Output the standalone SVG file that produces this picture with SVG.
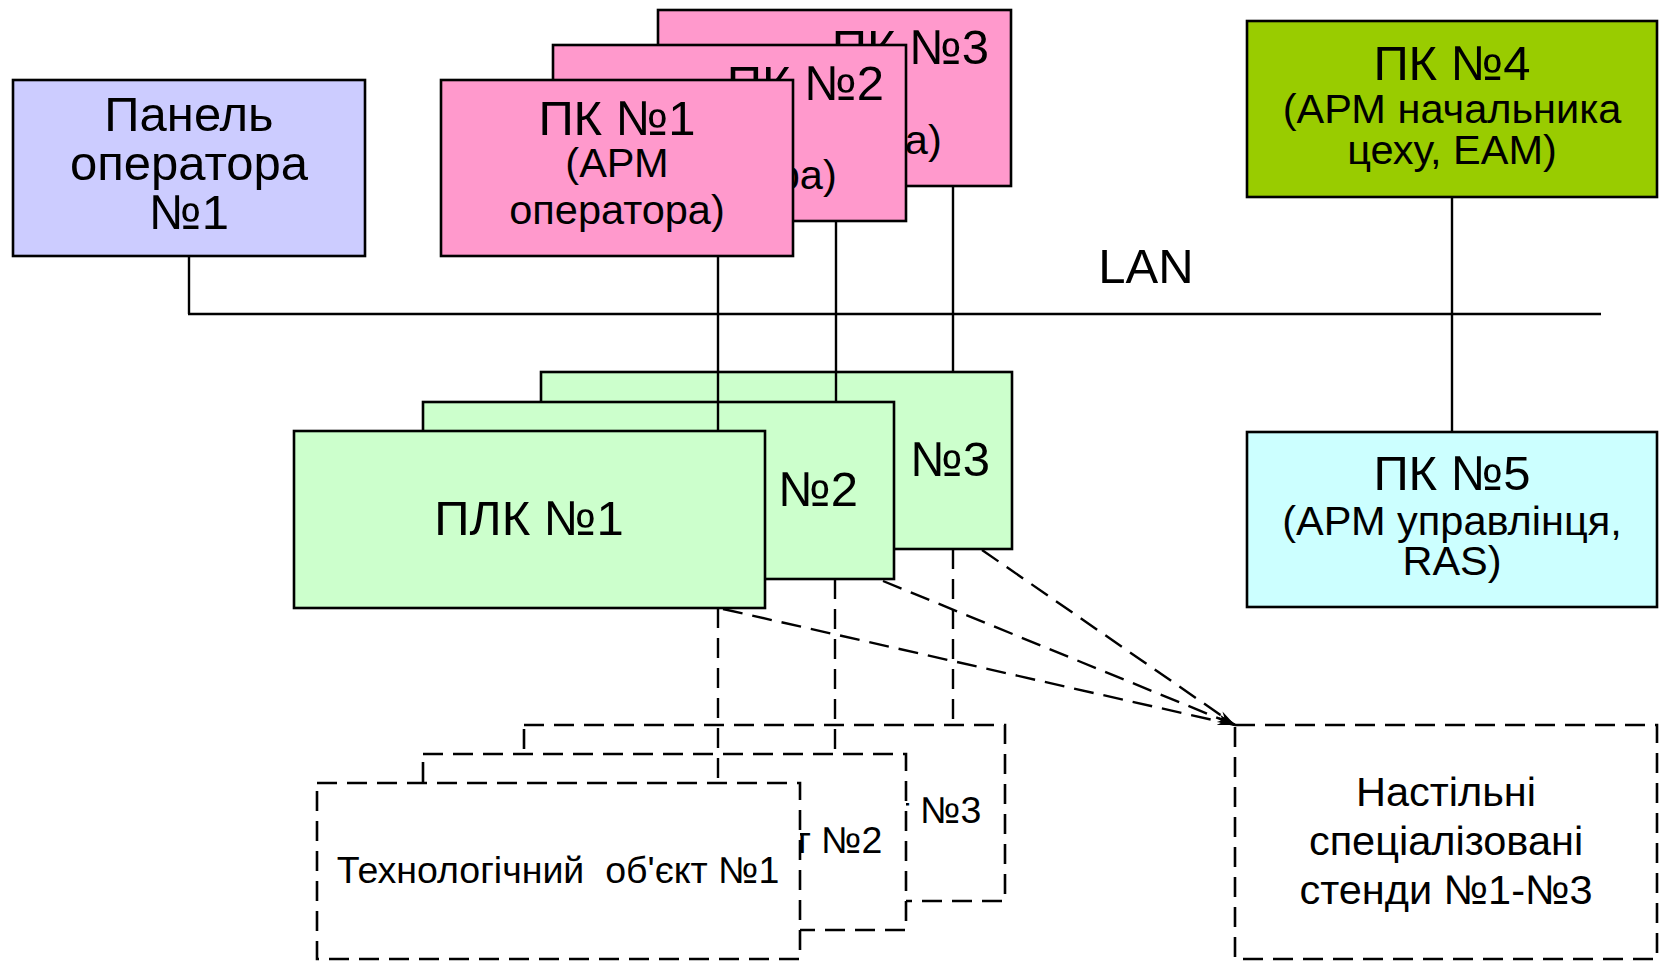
<svg xmlns="http://www.w3.org/2000/svg" width="1659" height="961" viewBox="0 0 1659 961">
<defs>
<style>
.box{stroke:#000;stroke-width:2.6}
.dbox{fill:#fff;stroke:#000;stroke-width:2.6;stroke-dasharray:20 10}
.t{font-family:"Liberation Sans",Arial,sans-serif;fill:#000;text-anchor:middle}
.big{font-size:49px}
.mid{font-size:41.5px}
.sm{font-size:37.5px}
.line{stroke:#000;stroke-width:2.4;fill:none}
.dash{stroke:#000;stroke-width:2.4;fill:none;stroke-dasharray:20 10}
.pk{fill:#FF99CC}
.plc{fill:#CCFFCC}
</style>
<marker id="arr" markerUnits="userSpaceOnUse" markerWidth="20" markerHeight="10" refX="18" refY="4" orient="auto">
<path d="M0,0 L18,4 L0,8 L5,4 z" fill="#000"/>
</marker>
</defs>
<rect width="1659" height="961" fill="#fff"/>

<g id="panel1">
<rect class="box" x="13" y="80" width="352" height="176" fill="#CCCCFF"/>
<text class="t big" x="189" y="131">Панель</text>
<text class="t big" x="189" y="180">оператора</text>
<text class="t big" x="189" y="229">№1</text>
</g>

<g id="pk3">
<rect class="box pk" x="658" y="10" width="353" height="176"/>
<text class="t big" x="989" y="64" style="text-anchor:end">ПК №3</text>
<text class="t mid" x="834" y="107">(АРМ</text>
<text class="t mid" x="834" y="154">оператора)</text>
</g>

<g id="pk2">
<rect class="box pk" x="553" y="45" width="353" height="176"/>
<text class="t big" x="884" y="100" style="text-anchor:end">ПК №2</text>
<text class="t mid" x="729" y="142">(АРМ</text>
<text class="t mid" x="729" y="189">оператора)</text>
</g>

<g id="pk1">
<rect class="box pk" x="441" y="80" width="352" height="176"/>
<text class="t big" x="617" y="135">ПК №1</text>
<text class="t mid" x="617" y="177">(АРМ</text>
<text class="t mid" x="617" y="224">оператора)</text>
</g>

<g id="pk4">
<rect class="box" x="1247" y="21" width="410" height="176" fill="#99CC00"/>
<text class="t big" x="1452" y="80">ПК №4</text>
<text class="t mid" x="1452" y="123">(АРМ начальника</text>
<text class="t mid" x="1452" y="164">цеху, ЕАМ)</text>
</g>

<g id="pk5">
<rect class="box" x="1247" y="432" width="410" height="175" fill="#CCFFFF"/>
<text class="t big" x="1452" y="490">ПК №5</text>
<text class="t mid" x="1452" y="535">(АРМ управлінця,</text>
<text class="t mid" x="1452" y="575">RAS)</text>
</g>

<g id="plc3">
<rect class="box plc" x="541" y="372" width="471" height="177"/>
<text class="t big" x="990" y="476" style="text-anchor:end" xml:space="preserve">ПЛК  №3</text>
</g>

<g id="plc2">
<rect class="box plc" x="423" y="402" width="471" height="177"/>
<text class="t big" x="858" y="506" style="text-anchor:end" xml:space="preserve">ПЛК  №2</text>
</g>

<g id="plc1">
<rect class="box plc" x="294" y="431" width="471" height="177"/>
<text class="t big" x="529" y="535">ПЛК №1</text>
</g>

<g id="obj3">
<rect class="dbox" x="524" y="725" width="481" height="176"/>
<text class="t sm" x="760" y="823" xml:space="preserve">Технологічний  об'єкт №3</text>
</g>

<g id="obj2">
<rect class="dbox" x="423" y="754" width="483" height="176"/>
<text class="t sm" x="661" y="853" xml:space="preserve">Технологічний  об'єкт №2</text>
</g>

<g id="obj1">
<rect class="dbox" x="317" y="783" width="483" height="176"/>
<text class="t sm" x="558" y="883" xml:space="preserve">Технологічний  об'єкт №1</text>
</g>

<g id="stands">
<rect class="dbox" x="1235" y="725" width="422" height="234"/>
<text class="t mid" x="1446" y="806">Настільні</text>
<text class="t mid" x="1446" y="855">спеціалізовані</text>
<text class="t mid" x="1446" y="904">стенди №1-№3</text>
</g>

<g id="lan-label">
<text class="t big" x="1146" y="283">LAN</text>
</g>

<g id="connectors">
<line class="line" x1="188" y1="314" x2="1601" y2="314"/>
<line class="line" x1="189" y1="256" x2="189" y2="314"/>
<line class="line" x1="718" y1="256" x2="718" y2="431"/>
<line class="line" x1="836" y1="221" x2="836" y2="402"/>
<line class="line" x1="953" y1="186" x2="953" y2="372"/>
<line class="line" x1="1452" y1="197" x2="1452" y2="432"/>
<line class="dash" x1="718" y1="608" x2="718" y2="783"/>
<line class="dash" x1="835" y1="579" x2="835" y2="754"/>
<line class="dash" x1="953" y1="549" x2="953" y2="725"/>
<line class="dash" x1="723" y1="609" x2="1235" y2="725" marker-end="url(#arr)"/>
<line class="dash" x1="883" y1="581" x2="1235" y2="725" marker-end="url(#arr)"/>
<line class="dash" x1="982" y1="550" x2="1235" y2="725" marker-end="url(#arr)"/>
</g>
</svg>
